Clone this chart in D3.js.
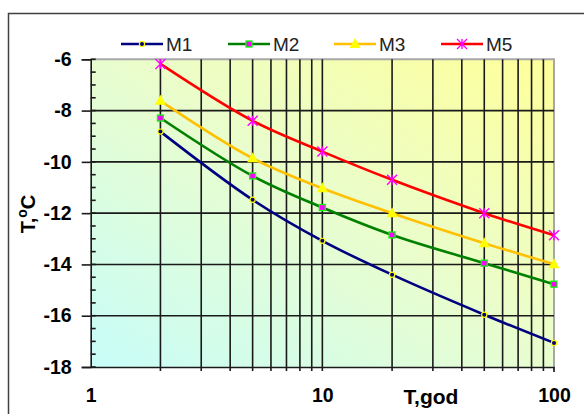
<!DOCTYPE html>
<html><head><meta charset="utf-8">
<script src="https://cdn.jsdelivr.net/npm/d3@7"></script>
<style>body{margin:0;background:#fff}svg{display:block}</style>
</head><body>
<script>
const periods = [2, 5, 10, 20, 50, 100];
const seriesNames = ["M1", "M2", "M3", "M5"];
const M1 = [-8.82, -11.48, -13.08, -14.40, -15.96, -17.06];
const M2 = [-8.29, -10.55, -11.78, -12.85, -13.95, -14.77];
const M3 = [-7.62, -9.86, -11.03, -12.00, -13.17, -13.99];
const M5 = [-6.18, -8.40, -9.60, -10.70, -12.00, -12.86];
const yTicks = [-6, -8, -10, -12, -14, -16, -18];
const xTickLabels = [1, 10, 100];
const xGrid = [2,3,4,5,6,7,8,9,10,20,30,40,50,60,70,80,90,100];
const yMinor = d3.range(-18, -5.9, 0.5);

const W = 584, H = 414;
const L = 90.7, R = 554, T = 59.3, B = 367;
const FONT = "Liberation Sans, Arial, sans-serif";
const svg = d3.select("body").append("svg").attr("width", W).attr("height", H);

const x = d3.scaleLog().domain([1, 100]).range([L, R]);
const y = d3.scaleLinear().domain([-18, -6]).range([B, T]);

// outer frame
svg.append("rect").attr("x", 8.5).attr("y", 13.5).attr("width", 700).attr("height", 500)
  .attr("fill", "none").attr("stroke", "#404040").attr("stroke-width", 1.5);

// background gradient (corner to corner, like Excel)
const defs = svg.append("defs");
const g = defs.append("linearGradient").attr("id", "bg")
  .attr("x1", 0).attr("y1", 1).attr("x2", 1).attr("y2", 0);
g.append("stop").attr("offset", "0%").attr("stop-color", "#c8fdf9");
g.append("stop").attr("offset", "50%").attr("stop-color", "#e8fdcf");
g.append("stop").attr("offset", "100%").attr("stop-color", "#ffff99");
svg.append("rect").attr("x", L).attr("y", T).attr("width", R - L).attr("height", B - T).attr("fill", "url(#bg)");

// plot border (top/right grey)
svg.append("path").attr("d", `M${L},${T}H${R}V${B}`).attr("fill", "none").attr("stroke", "#a8a8a8").attr("stroke-width", 2);

// grid
const grid = svg.append("g").attr("stroke", "#1a1a1a").attr("stroke-width", 1.6);
grid.selectAll("line.v").data(xGrid).join("line")
  .attr("x1", d => x(d)).attr("x2", d => x(d)).attr("y1", T).attr("y2", B + 4)
  .attr("stroke", (d) => d === 100 ? "#a8a8a8" : "#1a1a1a");
grid.selectAll("line.h").data(yTicks.filter(v => v !== -18 && v !== -6)).join("line")
  .attr("x1", L).attr("x2", R).attr("y1", d => y(d)).attr("y2", d => y(d));
grid.selectAll("line.m").data(yMinor).join("line")
  .attr("x1", L).attr("x2", L + 5).attr("y1", d => y(d)).attr("y2", d => y(d));
svg.append("line").attr("x1", x(100)).attr("x2", x(100)).attr("y1", B).attr("y2", B + 5).attr("stroke", "#1a1a1a").attr("stroke-width", 1.6);

// axes
const yAxis = svg.append("g").attr("transform", `translate(${L},0)`)
  .call(d3.axisLeft(y).tickValues(yTicks).tickSize(9).tickPadding(10).tickFormat(d => String(d)));
yAxis.select(".domain").attr("stroke", "#1a1a1a").attr("stroke-width", 1.6);
yAxis.selectAll(".tick line").attr("stroke", "#1a1a1a").attr("stroke-width", 1.6);
yAxis.selectAll(".tick text").attr("font-family", FONT)
  .attr("font-size", 19.5).attr("font-weight", "bold").attr("fill", "#000");

const xAxis = svg.append("g").attr("transform", `translate(0,${B})`)
  .call(d3.axisBottom(x).tickValues(xTickLabels).tickSize(0).tickPadding(21).tickFormat(d => String(d)));
xAxis.select(".domain").attr("stroke", "#1a1a1a").attr("stroke-width", 1.6);
xAxis.selectAll(".tick text").attr("font-family", FONT)
  .attr("font-size", 19.5).attr("font-weight", "bold").attr("fill", "#000");

// axis titles
svg.append("text").attr("x", 431).attr("y", 404).attr("text-anchor", "middle")
  .attr("font-family", FONT).attr("font-size", 21).attr("font-weight", "bold")
  .text("T,god");
const yt = svg.append("text").attr("transform", "translate(35,214) rotate(-90)").attr("text-anchor", "middle")
  .attr("font-family", FONT).attr("font-size", 20).attr("font-weight", "bold");
yt.append("tspan").text("T,");
yt.append("tspan").attr("font-size", 14).attr("dy", -8).text("o");
yt.append("tspan").attr("dy", 8).text("C");

// series
const series = [
  {name: "M1", vals: M1, color: "#000080"},
  {name: "M2", vals: M2, color: "#008000"},
  {name: "M3", vals: M3, color: "#ffc000"},
  {name: "M5", vals: M5, color: "#ff0000"}
];
const line = d3.line().x(d => x(d[0])).y(d => y(d[1])).curve(d3.curveCatmullRom.alpha(0.5));

function marker(sel, name, cx, cy) {
  if (name === "M1") {
    sel.append("circle").attr("cx", cx).attr("cy", cy).attr("r", 2.6).attr("fill", "#000080").attr("stroke", "#ffff00").attr("stroke-width", 1.2);
  } else if (name === "M2") {
    sel.append("rect").attr("x", cx - 3).attr("y", cy - 3).attr("width", 6).attr("height", 6).attr("fill", "#ff00ff").attr("stroke", "#00ff00").attr("stroke-width", 1.3);
  } else if (name === "M3") {
    sel.append("path").attr("d", `M${cx},${cy - 6}L${cx + 5.5},${cy + 4}L${cx - 5.5},${cy + 4}Z`).attr("fill", "#ffff00");
  } else {
    const s = 5;
    sel.append("path").attr("d", `M${cx - s},${cy - s}L${cx + s},${cy + s}M${cx - s},${cy + s}L${cx + s},${cy - s}M${cx},${cy - s}V${cy + s}`)
      .attr("stroke", "#ff00ff").attr("stroke-width", 1.4).attr("fill", "none");
  }
}

series.forEach(s => {
  const pts = periods.map((p, i) => [p, s.vals[i]]);
  svg.append("path").attr("d", line(pts)).attr("fill", "none").attr("stroke", s.color).attr("stroke-width", 2.6);
  const mg = svg.append("g");
  pts.forEach(p => marker(mg, s.name, x(p[0]), y(p[1])));
});

// legend
const legX = [121, 228, 334, 441];
const legY = 44;
series.forEach((s, i) => {
  const lg = svg.append("g");
  lg.append("line").attr("x1", legX[i]).attr("x2", legX[i] + 42).attr("y1", legY).attr("y2", legY)
    .attr("stroke", s.color).attr("stroke-width", 2.6);
  marker(lg, s.name, legX[i] + 21, legY);
  lg.append("text").attr("x", legX[i] + 45).attr("y", legY + 7)
    .attr("font-family", FONT).attr("font-size", 19).attr("fill", "#222")
    .text(s.name);
});
</script>
</body></html>
